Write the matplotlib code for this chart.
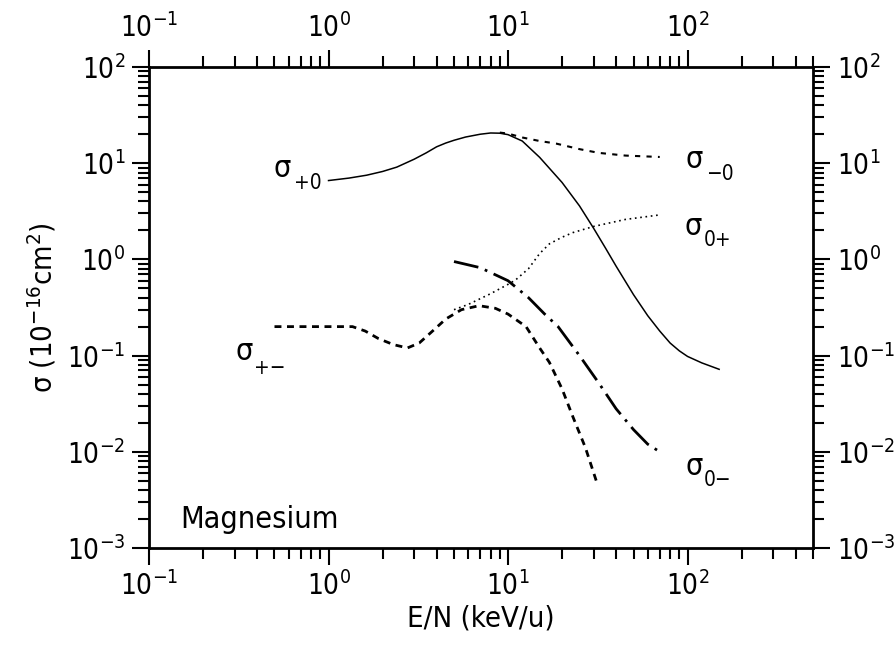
import matplotlib
matplotlib.use("Agg")
import matplotlib.pyplot as plt
from matplotlib.ticker import LogLocator, NullFormatter, LogFormatterSciNotation

plt.rcParams['font.family'] = ['DejaVu Sans']
plt.rcParams['font.stretch'] = 'condensed'
plt.rcParams['mathtext.default'] = 'regular'

# sigma_{+0}: solid
e_p0 = [1.0, 1.3, 1.63, 2.0, 2.4, 3.0, 3.5, 4.0, 4.5, 5.0, 5.8, 7.0, 8.0, 9.0, 10, 12, 15, 20, 25, 30, 35, 40, 50, 60, 70, 80, 90, 100, 120, 150]
s_p0 = [6.6, 7.0, 7.5, 8.2, 9.1, 11.0, 12.8, 14.8, 16.2, 17.3, 18.7, 20.0, 20.6, 20.5, 19.8, 17.0, 11.5, 6.3, 3.6, 2.1, 1.3, 0.85, 0.43, 0.26, 0.18, 0.135, 0.112, 0.098, 0.084, 0.072]

# sigma_{-0}: short dashes
e_m0 = [9.0, 10, 12, 15, 18.5, 25, 32, 45, 70]
s_m0 = [20.8, 20.3, 18.5, 17.0, 16.0, 14.0, 12.8, 12.0, 11.6]

# sigma_{0+}: dotted
e_0p = [5.0, 6.0, 8.0, 10, 11, 13, 15, 17, 20, 23, 30, 45, 70]
s_0p = [0.30, 0.34, 0.44, 0.55, 0.61, 0.80, 1.15, 1.45, 1.7, 1.9, 2.2, 2.6, 2.9]

# sigma_{+-}: dashed
e_pm = [0.5, 0.7, 1.0, 1.36, 1.6, 1.9, 2.3, 2.75, 3.2, 3.8, 4.5, 5.5, 6.9, 8.5, 10, 12.6, 15, 17, 20, 23, 27, 31]
s_pm = [0.20, 0.20, 0.20, 0.20, 0.18, 0.15, 0.13, 0.12, 0.135, 0.18, 0.24, 0.30, 0.33, 0.31, 0.27, 0.20, 0.12, 0.085, 0.045, 0.023, 0.011, 0.005]

# sigma_{0-}: dash-dot
e_0m = [5.0, 7, 10, 13, 16, 19, 25, 32, 40, 50, 60, 70]
s_0m = [0.95, 0.82, 0.60, 0.40, 0.27, 0.20, 0.10, 0.052, 0.028, 0.017, 0.012, 0.010]

fig = plt.figure(figsize=(8.94, 6.58), dpi=100)
ax = fig.add_axes([0.1667, 0.1672, 0.7427, 0.731])

ax.plot(e_p0, s_p0, color='black', lw=1.1)
ax.plot(e_m0, s_m0, color='black', lw=1.5, dashes=(2.5, 3))
ax.plot(e_0p, s_0p, color='black', lw=1.2, dashes=(1, 2.2))
ax.plot(e_pm, s_pm, color='black', lw=2.0, dashes=(2.5, 2))
ax.plot(e_0m, s_0m, color='black', lw=2.0, dashes=(9, 2.5, 1, 2.5))

ax.set_xscale('log')
ax.set_yscale('log')
ax.set_xlim(0.1, 500)
ax.set_ylim(1e-3, 1e2)

for axis in (ax.xaxis, ax.yaxis):
    axis.set_major_locator(LogLocator(base=10))
    axis.set_minor_locator(LogLocator(base=10, subs=range(2, 10)))
    axis.set_major_formatter(LogFormatterSciNotation())
    axis.set_minor_formatter(NullFormatter())

ax.tick_params(which='both', direction='out', top=True, right=True,
               labeltop=True, labelright=True, width=1.5, labelsize=20)
ax.tick_params(which='major', length=12, pad=5)
ax.tick_params(which='minor', length=8)
for sp in ax.spines.values():
    sp.set_linewidth(2)

ax.set_xlabel('E/N (keV/u)', fontsize=21, labelpad=2)
ax.set_ylabel(r'σ (10$^{-16}$cm$^{2}$)', fontsize=21, labelpad=6)

# curve labels
lab = [('+0', 0.555, 8.9, 0.764, 6.2),
       ('−0', 109, 10.8, 151, 7.7),
       ('0+', 108, 2.22, 147, 1.59),
       ('+−', 0.337, 0.109, 0.47, 0.074),
       ('0−', 109, 0.0071, 147, 0.0051)]
for sub, xs, ys, xb, yb in lab:
    ax.text(xs, ys, 'σ', fontsize=22, ha='center', va='center')
    ax.text(xb, yb, sub, fontsize=15, ha='center', va='center')

ax.text(0.149, 0.0016, 'Magnesium', fontsize=22, ha='left', va='baseline')

fig.savefig('out.png', dpi=100)
